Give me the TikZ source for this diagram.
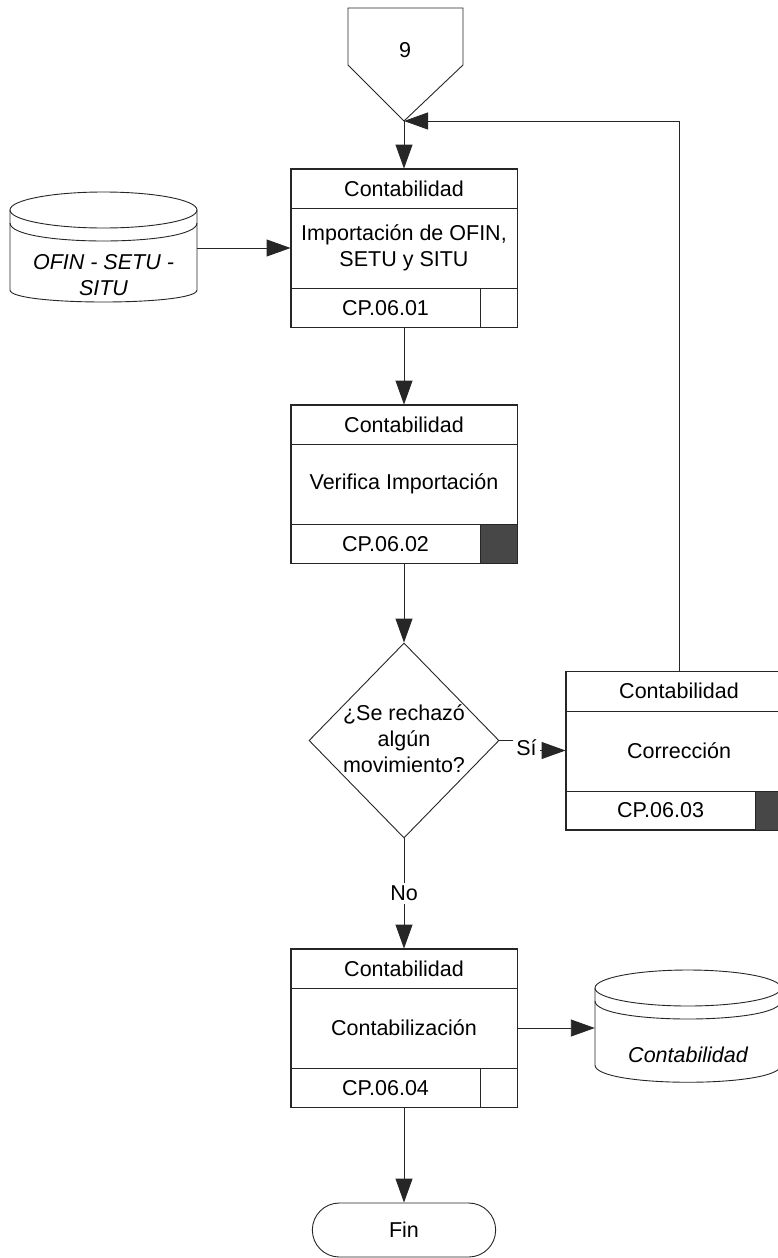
\documentclass[tikz,border=0pt]{standalone}
\usepackage{fontspec}
\setmainfont{Liberation Sans}
\usetikzlibrary{arrows.meta,shapes.geometric,shapes.misc,calc}

\tikzset{
  ln/.style={draw=black!85, line width=0.9pt},
  arr/.style={ln, -{Triangle[length=24pt,width=17pt]}},
  proc/.style={ln, rectangle, minimum width=226pt, minimum height=158pt, inner sep=0pt},
  txt/.style={font=\fontsize{21.5}{25.5}\selectfont, align=center, inner sep=0pt},
  itxt/.style={font=\fontsize{21.5}{26}\selectfont\itshape, align=center, inner sep=0pt},
  flowlbl/.style={font=\fontsize{21.5}{25.5}\selectfont, fill=white, inner sep=3pt},
}

% process box: name, centre, body text, code, colour of the code cell
\newcommand\procbox[5]{%
  \node[proc] (#1) at (#2) {};
  \coordinate (#1-hl) at ($(#1.north west)+(0,40)$);
  \coordinate (#1-hr) at ($(#1.north east)+(0,40)$);
  \coordinate (#1-fl) at ($(#1.south west)+(0,-39)$);
  \coordinate (#1-fr) at ($(#1.south east)+(0,-39)$);
  \coordinate (#1-dv) at ($(#1.south east)+(-37,0)$);
  \fill[#5] (#1-dv |- #1-fr) rectangle (#1.south east);
  \draw[ln] (#1-hl) -- (#1-hr);
  \draw[ln] (#1-fl) -- (#1-fr);
  \draw[ln] (#1-dv |- #1-fr) -- (#1-dv);
  \draw[ln] (#1.north west) rectangle (#1.south east);
  \node[txt] (#1-t) at ($(#1.north)+(0,20)$) {Contabilidad};
  \node[txt] (#1-b) at (#1) {#3};
  \node[txt] (#1-c) at ($(#1-fl)!0.5!(#1-dv)$) {#4};
}

\begin{document}
\begin{tikzpicture}[x=1pt, y=-1pt]
  \fill[white] (0,0) rectangle (778,1258);
  \useasboundingbox (0,0) rectangle (778,1258);

  % off-page connector
  \draw[ln] (348,8) -- (463,8) -- (463,65) -- (404,121) -- (348,65) -- cycle;
  \coordinate (pg) at (404,121);
  \node[txt] (pgn) at (405,50) {9};

  % process steps
  \procbox{b1}{404,248}{Importación de OFIN,\\SETU y SITU}{CP.06.01}{white}
  \procbox{b2}{404,484}{Verifica Importación}{CP.06.02}{black!72}
  \procbox{b3}{679,750.5}{Corrección}{CP.06.03}{black!72}
  \procbox{b4}{404,1028}{Contabilización}{CP.06.04}{white}

  % decision
  \node[ln, diamond, minimum width=190pt, minimum height=195pt, inner sep=0pt] (dia) at (404,740.5) {};
  \node[txt, font=\fontsize{21.5}{26}\selectfont] (diat) at (404,739) {¿Se rechazó\\algún\\movimiento?};

  % terminator
  \node[ln, rounded rectangle, minimum width=190pt, minimum height=54pt, font=\fontsize{21.5}{25.5}\selectfont] (fin) at (404,1230) {Fin};

  % data store: OFIN - SETU - SITU
  \filldraw[ln, fill=white] (10,210) -- (10,290) .. controls (10,306) and (197,306) .. (197,290) -- (197,210);
  \draw[ln] (103.5,210) ellipse [x radius=93.5pt, y radius=18pt];
  \draw[ln] (10,223) .. controls (10,247) and (197,247) .. (197,223);
  \node[inner sep=0pt, minimum width=187pt, minimum height=70pt] (c1) at (103.5,248) {};
  \node[itxt] (c1t) at (103.5,275) {OFIN - SETU -\\SITU};

  % data store: Contabilidad
  \filldraw[ln, fill=white] (595,988) -- (595,1065) .. controls (595,1088) and (781,1088) .. (781,1065) -- (781,988);
  \draw[ln] (688,988) ellipse [x radius=93pt, y radius=18pt];
  \draw[ln] (595,1001) .. controls (595,1025) and (781,1025) .. (781,1001);
  \node[inner sep=0pt, minimum width=186pt, minimum height=70pt] (c2) at (688,1028) {};
  \node[itxt] (c2t) at (688,1055) {Contabilidad};

  % connectors
  \draw[arr] (pg) -- (b1.north);
  \draw[arr] (c1.east) -- (b1.west);
  \draw[arr] (b1.south) -- (b2.north);
  \draw[arr] (b2.south) -- (dia.north);
  \draw[arr] (dia.east) -- ++(27,0) coordinate (sj) |- (b3.west);
  \node[flowlbl] (si) at ($(sj)+(0,7)$) {Sí};
  \draw[arr] (b3.north) |- (pg);
  \draw[arr] (dia.south) -- node[flowlbl] (no) {No} (b4.north);
  \draw[arr] (b4.east) -- (c2.west);
  \draw[arr] (b4.south) -- (fin.north);
\end{tikzpicture}
\end{document}
